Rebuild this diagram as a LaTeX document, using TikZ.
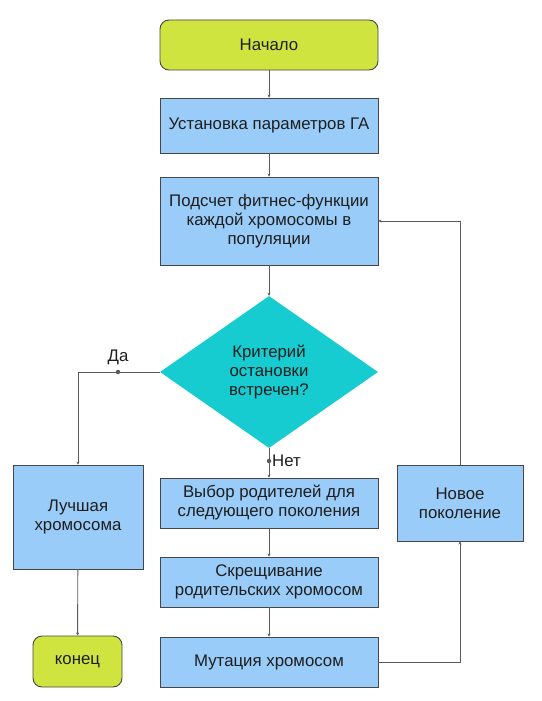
\documentclass[tikz,border=0pt]{standalone}
\usepackage{fontspec}
\setmainfont{Liberation Sans}
\usetikzlibrary{shapes.geometric,arrows.meta}
\definecolor{limefill}{RGB}{208,228,64}
\definecolor{boxfill}{RGB}{153,204,248}
\definecolor{diafill}{RGB}{22,204,208}
\definecolor{edgegray}{RGB}{70,70,70}
\definecolor{linegray}{RGB}{90,90,90}
\definecolor{txt}{RGB}{30,30,30}
\tikzset{
  box/.style={draw=edgegray,fill=boxfill,line width=0.9pt,align=center,inner sep=2pt,text=txt},
  term/.style={box,fill=limefill,rounded corners=9pt},
  crit/.style={diamond,draw=none,fill=diafill,align=center,inner sep=0pt,text=txt},
  link/.style={draw=linegray,line width=0.9pt,-{Stealth[length=3pt,width=3pt]}},
  knot/.style={circle,fill=linegray,inner sep=0pt,minimum size=4.5pt}
}
\begin{document}
\begin{tikzpicture}[x=1pt,y=-1pt,font=\fontsize{16.8}{19}\selectfont]
\useasboundingbox (0,0) rectangle (541,701);
\node[term,minimum width=218,minimum height=50] (start) at (269,45) {Начало};
\node[box,minimum width=218,minimum height=55] (params) at (269,125.5) {Установка параметров ГА};
\node[box,minimum width=218,minimum height=88] (fitness) at (269,221) {Подсчет фитнес-функции\\каждой хромосомы в\\популяции};
\node[crit,minimum width=218,minimum height=152] (stop) at (269,372) {Критерий\\остановки\\встречен?};
\node[box,minimum width=130,minimum height=104] (best) at (78,517) {Лучшая\\хромосома};
\node[box,minimum width=218,minimum height=50] (select) at (269,503) {Выбор родителей для\\следующего поколения};
\node[box,minimum width=218,minimum height=50] (cross) at (269,582) {Скрещивание\\родительских хромосом};
\node[box,minimum width=218,minimum height=50] (mut) at (269,662) {Мутация хромосом};
\node[box,minimum width=126,minimum height=76] (newgen) at (460,503) {Новое\\поколение};
\node[term,minimum width=89,minimum height=51] (finish) at (77.5,661.5) {конец};
\coordinate (yes) at (118,372);
\coordinate (no) at (269,461);
\node[knot] (yesdot) at (yes) {};
\node[knot] (nodot) at (no) {};
\node[text=txt] (yeslbl) at (118,357) {Да};
\node[text=txt,anchor=west,inner sep=1pt] (nolbl) at (271,461) {Нет};
\draw[link] (start) -- (params);
\draw[link] (params) -- (fitness);
\draw[link] (fitness) -- (stop);
\draw[link] (stop.south) -- (select.north);
\draw[link] (stop.west) -| (best.north);
\draw[link] (best) -- (finish);
\draw[link] (select) -- (cross);
\draw[link] (cross) -- (mut);
\draw[link] (mut.east) -| (newgen.south);
\draw[link] (newgen.north) |- (fitness.east);
\end{tikzpicture}
\end{document}
